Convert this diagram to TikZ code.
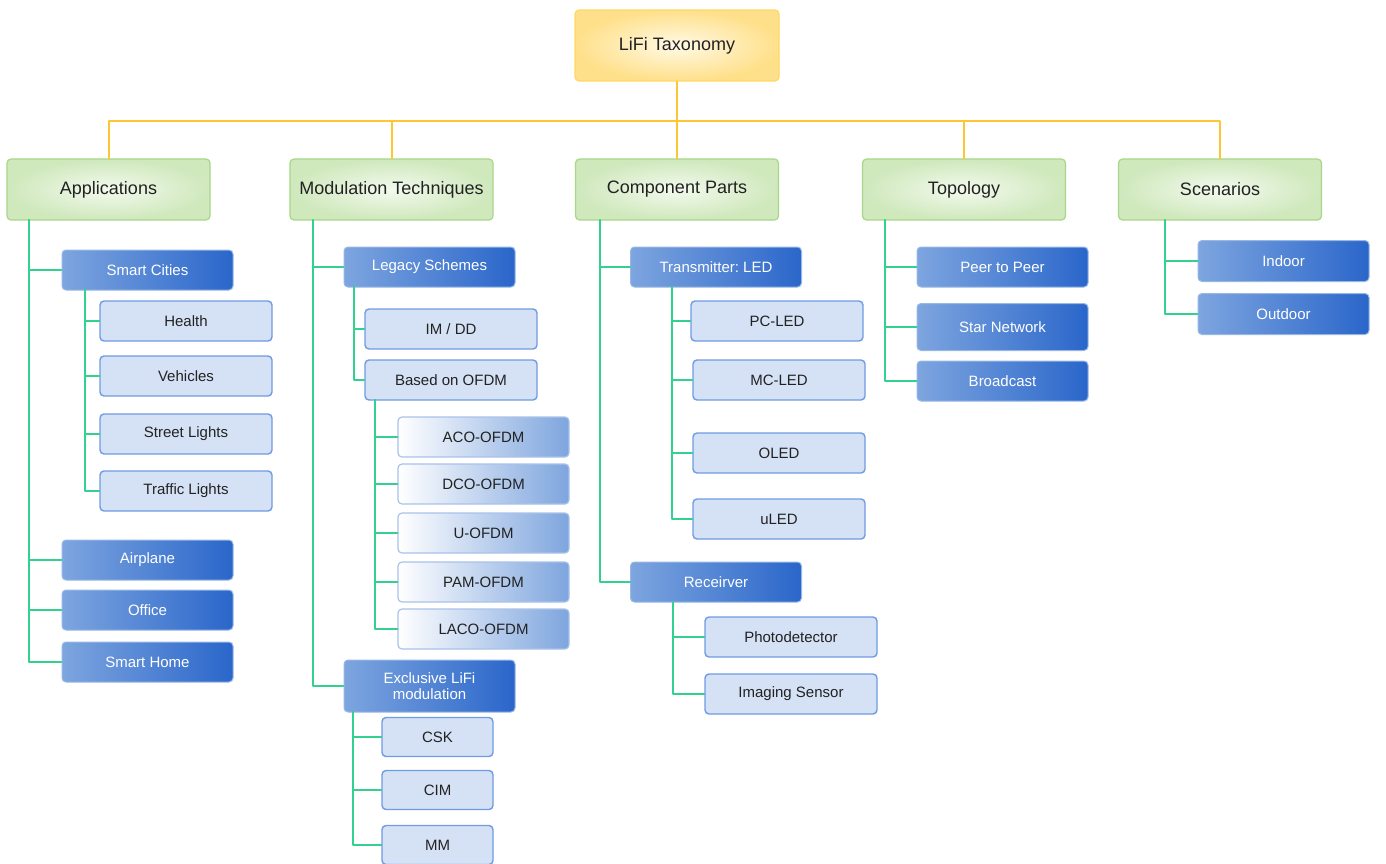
\documentclass[tikz,border=0pt]{standalone}
\usepackage{fontspec}
\setmainfont{Liberation Sans}
\usetikzlibrary{positioning}
\frenchspacing

\definecolor{busyellow}{HTML}{FFC633}
\definecolor{treegreen}{HTML}{33D18F}
\definecolor{rootin}{HTML}{FFFAE6}
\definecolor{rootout}{HTML}{FFE08A}
\definecolor{rootline}{HTML}{FFD866}
\definecolor{catin}{HTML}{F3FAEE}
\definecolor{catout}{HTML}{CFE8BC}
\definecolor{catline}{HTML}{A8D68A}
\definecolor{blueL}{HTML}{7DA5DF}
\definecolor{blueR}{HTML}{2A66CA}
\definecolor{leaffill}{HTML}{D5E1F5}
\definecolor{leafline}{HTML}{6E9BE2}
\definecolor{fadeR}{HTML}{7EA5DE}
\definecolor{fadeline}{HTML}{A9C2EA}
\definecolor{txt}{HTML}{222222}

\begin{document}
\begin{tikzpicture}[x=1pt,y=-1pt,line cap=round,line join=round,
  rootbox/.style={draw=rootline,line width=1.2pt,rounded corners=4pt,shading=radial,
    inner color=rootin,outer color=rootout,minimum width=204pt,minimum height=71pt,
    text=txt,font=\fontsize{18}{21}\selectfont},
  catbox/.style={draw=catline,line width=1.2pt,rounded corners=4pt,shading=radial,
    inner color=catin,outer color=catout,minimum width=203pt,minimum height=61pt,
    text=txt,font=\fontsize{18}{21}\selectfont},
  bluebox/.style={draw=blueL!80,line width=1pt,rounded corners=4pt,left color=blueL,
    right color=blueR,minimum width=171pt,minimum height=40pt,inner sep=2pt,
    text=white,align=center,font=\fontsize{15}{17}\selectfont},
  leafbox/.style={draw=leafline,line width=1.4pt,rounded corners=4pt,fill=leaffill,
    minimum width=172pt,minimum height=40pt,inner sep=2pt,
    text=txt,font=\fontsize{15}{17}\selectfont},
  smallleaf/.style={leafbox,minimum width=111pt,minimum height=39pt},
  fadebox/.style={draw=fadeline,line width=1.2pt,rounded corners=4pt,left color=white,
    right color=fadeR,minimum width=171pt,minimum height=40pt,inner sep=2pt,
    text=txt,font=\fontsize{15}{17}\selectfont},
  yline/.style={draw=busyellow,line width=2pt},
  gline/.style={draw=treegreen,line width=2pt}]
\useasboundingbox (0,0) rectangle (1386,863);

% top level
\node[rootbox] (root) at (677,45.5) {LiFi Taxonomy};
\node[catbox] (app) at (108.5,189.5) {Applications};
\node[catbox] (mod) at (391.5,189.5) {Modulation Techniques};
\node[catbox] (comp) at (677,189.5) {Component Parts};
\node[catbox] (topo) at (964,189.5) {Topology};
\node[catbox] (scen) at (1220,189.5) {Scenarios};

\coordinate (bus) at (677,121);
\draw[yline] (root.south) -- (bus);
\foreach \c in {app,mod,comp,topo,scen}
  \draw[yline] (\c.north) |- (bus);

% applications
\node[bluebox] (smart) at (147.5,270) {Smart Cities};
\node[leafbox] (health) at (186,321) {Health};
\node[leafbox] (vehic) at (186,376) {Vehicles};
\node[leafbox] (street) at (186,434) {Street Lights};
\node[leafbox] (traffic) at (186,491) {Traffic Lights};
\node[bluebox] (plane) at (147.5,560) {Airplane};
\node[bluebox] (office) at (147.5,610) {Office};
\node[bluebox] (home) at (147.5,662) {Smart Home};

\coordinate (appT) at (29,220);
\foreach \c in {smart,plane,office,home}
  \draw[gline] (appT) |- (\c.west);
\coordinate (smartT) at (85,290);
\foreach \c in {health,vehic,street,traffic}
  \draw[gline] (smartT) |- (\c.west);

% modulation techniques
\node[bluebox] (legacy) at (429.5,267) {Legacy Schemes};
\node[leafbox] (imdd) at (451,329) {IM / DD};
\node[leafbox] (ofdm) at (451,380) {Based on OFDM};
\node[fadebox] (aco) at (483.5,437) {ACO-OFDM};
\node[fadebox] (dco) at (483.5,484) {DCO-OFDM};
\node[fadebox] (uofdm) at (483.5,533) {U-OFDM};
\node[fadebox] (pam) at (483.5,582) {PAM-OFDM};
\node[fadebox] (laco) at (483.5,629) {LACO-OFDM};
\node[bluebox,minimum height=52pt] (excl) at (429.5,686) {Exclusive LiFi\\[-1pt]modulation};
\node[smallleaf] (csk) at (437.5,737) {CSK};
\node[smallleaf] (cim) at (437.5,790) {CIM};
\node[smallleaf] (mm) at (437.5,845) {MM};

\coordinate (modT) at (313,220);
\foreach \c in {legacy,excl}
  \draw[gline] (modT) |- (\c.west);
\coordinate (legT) at (354,287);
\foreach \c in {imdd,ofdm}
  \draw[gline] (legT) |- (\c.west);
\coordinate (ofdmT) at (375,400);
\foreach \c in {aco,dco,uofdm,pam,laco}
  \draw[gline] (ofdmT) |- (\c.west);
\coordinate (exclT) at (353,712);
\foreach \c in {csk,cim,mm}
  \draw[gline] (exclT) |- (\c.west);

% component parts
\node[bluebox] (tx) at (716,267) {Transmitter: LED};
\node[leafbox] (pcled) at (777,321) {PC-LED};
\node[leafbox] (mcled) at (779,380) {MC-LED};
\node[leafbox] (oled) at (779,453) {OLED};
\node[leafbox] (uled) at (779,519) {uLED};
\node[bluebox] (rx) at (716,582) {Receirver};
\node[leafbox] (photo) at (791,637) {Photodetector};
\node[leafbox] (imgs) at (791,694) {Imaging Sensor};

\coordinate (compT) at (600,220);
\foreach \c in {tx,rx}
  \draw[gline] (compT) |- (\c.west);
\coordinate (txT) at (672,287);
\foreach \c in {pcled,mcled,oled,uled}
  \draw[gline] (txT) |- (\c.west);
\coordinate (rxT) at (673,602);
\foreach \c in {photo,imgs}
  \draw[gline] (rxT) |- (\c.west);

% topology
\node[bluebox] (p2p) at (1002.5,267) {Peer to Peer};
\node[bluebox,minimum height=47pt] (star) at (1002.5,327) {Star Network};
\node[bluebox] (bcast) at (1002.5,381) {Broadcast};
\coordinate (topoT) at (885,220);
\foreach \c in {p2p,star,bcast}
  \draw[gline] (topoT) |- (\c.west);

% scenarios
\node[bluebox,minimum height=41pt] (indoor) at (1283.5,261) {Indoor};
\node[bluebox,minimum height=41pt] (outdoor) at (1283.5,314) {Outdoor};
\coordinate (scenT) at (1165,220);
\foreach \c in {indoor,outdoor}
  \draw[gline] (scenT) |- (\c.west);
\end{tikzpicture}
\end{document}
